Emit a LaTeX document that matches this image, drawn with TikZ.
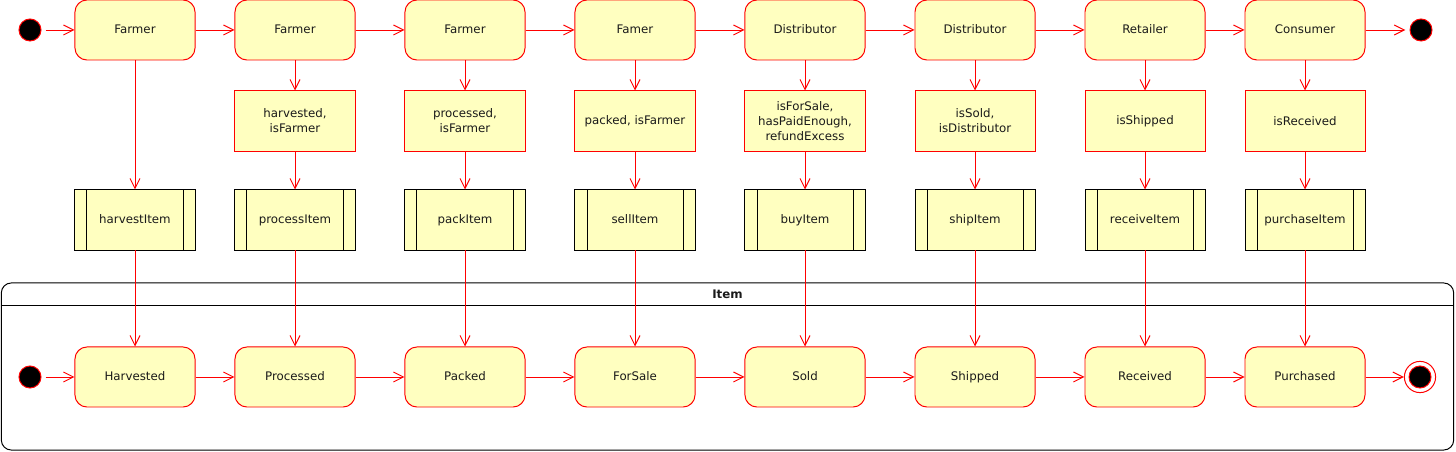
\documentclass[tikz,border=0pt]{standalone}
\usepackage{fontspec}
\setmainfont{DejaVu Sans}
\usetikzlibrary{arrows.meta}
\definecolor{stateyellow}{HTML}{FFFFC0}
\definecolor{textgray}{HTML}{1A1A1A}

\begin{document}
\begin{tikzpicture}[x=0.025cm,y=-0.025cm,line width=0.7pt,
  state/.style={draw=red,fill=stateyellow,rounded corners=0.3cm,minimum width=3cm,minimum height=1.5cm,inner sep=0pt,text height=6.4pt,text depth=1.8pt,text=textgray,font=\fontsize{8.4}{10.7}\selectfont},
  guard/.style={draw=red,fill=stateyellow,minimum width=3cm,minimum height=1.5cm,inner sep=0pt,align=center,text=textgray,font=\fontsize{8.4}{10.7}\selectfont},
  task/.style={draw=black,fill=stateyellow,minimum width=3cm,minimum height=1.5cm,inner sep=0pt,text height=6.4pt,text depth=1.8pt,text=textgray,font=\fontsize{8.4}{10.7}\selectfont,
    path picture={\draw[black,line width=0.7pt] ([xshift=0.3cm]path picture bounding box.north west) -- ([xshift=0.3cm]path picture bounding box.south west);
                  \draw[black,line width=0.7pt] ([xshift=-0.3cm]path picture bounding box.north east) -- ([xshift=-0.3cm]path picture bounding box.south east);}},
  start/.style={circle,draw=red,fill=black,minimum size=0.55cm,inner sep=0pt},
  stopring/.style={circle,draw=red,fill=white,minimum size=0.78cm,inner sep=0pt},
  flow/.style={draw=red,-{Straight Barb[length=0.25cm,width=0.25cm]}}]
\useasboundingbox (0,0) rectangle (1456,452);
%================================================================
%	Item container
\node[draw=black,rounded corners=0.25cm,minimum width=36.3cm,minimum height=4.175cm,inner sep=0pt] (item) at (727.5,366.5) {};
\draw (1,305) -- (1454,305);
\node[font=\fontsize{8.4}{10.7}\selectfont\bfseries,text=textgray] (itemtitle) at (727.5,294) {Item};

%================================================================
%	Top row: actors
\node[start] (topstart) at (30,30) {};
\node[state] (farmerA) at (135,30) {Farmer};
\node[state] (farmerB) at (295,30) {Farmer};
\node[state] (farmerC) at (465,30) {Farmer};
\node[state] (famer) at (635,30) {Famer};
\node[state] (distA) at (805,30) {Distributor};
\node[state] (distB) at (975,30) {Distributor};
\node[state] (retailer) at (1145,30) {Retailer};
\node[state] (consumer) at (1305,30) {Consumer};
\node[start] (topend) at (1421,30) {};
%----------------------------------------------------------------
\draw[flow,shorten <=3pt] (topstart) -- (farmerA);
\draw[flow] (farmerA) -- (farmerB);
\draw[flow] (farmerB) -- (farmerC);
\draw[flow] (farmerC) -- (famer);
\draw[flow] (famer) -- (distA);
\draw[flow] (distA) -- (distB);
\draw[flow] (distB) -- (retailer);
\draw[flow] (retailer) -- (consumer);
\draw[flow,shorten >=3pt] (consumer) -- (topend);

%================================================================
%	Guards
\node[guard] (gHarvested) at (295,121) {harvested,\\isFarmer};
\node[guard] (gProcessed) at (465,121) {processed,\\isFarmer};
\node[guard] (gPacked) at (635,121) {packed, isFarmer};
\node[guard] (gForSale) at (805,121) {isForSale,\\hasPaidEnough,\\refundExcess};
\node[guard] (gSold) at (975,121) {isSold,\\isDistributor};
\node[guard] (gShipped) at (1145,121) {isShipped};
\node[guard] (gReceived) at (1305,121) {isReceived};

%================================================================
%	Functions
\node[task] (tHarvest) at (135,220) {harvestItem};
\node[task] (tProcess) at (295,220) {processItem};
\node[task] (tPack) at (465,220) {packItem};
\node[task] (tSell) at (635,220) {sellItem};
\node[task] (tBuy) at (805,220) {buyItem};
\node[task] (tShip) at (975,220) {shipItem};
\node[task] (tReceive) at (1145,220) {receiveItem};
\node[task] (tPurchase) at (1305,220) {purchaseItem};

%================================================================
%	Item states
\node[start] (itemstart) at (30,377) {};
\node[state] (harvested) at (135,377) {Harvested};
\node[state] (processed) at (295,377) {Processed};
\node[state] (packed) at (465,377) {Packed};
\node[state] (forsale) at (635,377) {ForSale};
\node[state] (sold) at (805,377) {Sold};
\node[state] (shipped) at (975,377) {Shipped};
\node[state] (received) at (1145,377) {Received};
\node[state] (purchased) at (1305,377) {Purchased};
\node[stopring] (itemend) at (1420,377) {};
\node[start] (itemendcore) at (itemend) {};
%----------------------------------------------------------------
\draw[flow,shorten <=3pt] (itemstart) -- (harvested);
\draw[flow] (harvested) -- (processed);
\draw[flow] (processed) -- (packed);
\draw[flow] (packed) -- (forsale);
\draw[flow] (forsale) -- (sold);
\draw[flow] (sold) -- (shipped);
\draw[flow] (shipped) -- (received);
\draw[flow] (received) -- (purchased);
\draw[flow] (purchased) -- (itemend);

%================================================================
%	Vertical flows
\draw[flow] (farmerA) -- (tHarvest);
\draw[flow] (farmerB) -- (gHarvested);
\draw[flow] (farmerC) -- (gProcessed);
\draw[flow] (famer) -- (gPacked);
\draw[flow] (distA) -- (gForSale);
\draw[flow] (distB) -- (gSold);
\draw[flow] (retailer) -- (gShipped);
\draw[flow] (consumer) -- (gReceived);
%----------------------------------------------------------------
\draw[flow] (gHarvested) -- (tProcess);
\draw[flow] (gProcessed) -- (tPack);
\draw[flow] (gPacked) -- (tSell);
\draw[flow] (gForSale) -- (tBuy);
\draw[flow] (gSold) -- (tShip);
\draw[flow] (gShipped) -- (tReceive);
\draw[flow] (gReceived) -- (tPurchase);
%----------------------------------------------------------------
\draw[flow] (tHarvest) -- (harvested);
\draw[flow] (tProcess) -- (processed);
\draw[flow] (tPack) -- (packed);
\draw[flow] (tSell) -- (forsale);
\draw[flow] (tBuy) -- (sold);
\draw[flow] (tShip) -- (shipped);
\draw[flow] (tReceive) -- (received);
\draw[flow] (tPurchase) -- (purchased);
%================================================================
\end{tikzpicture}
\end{document}
